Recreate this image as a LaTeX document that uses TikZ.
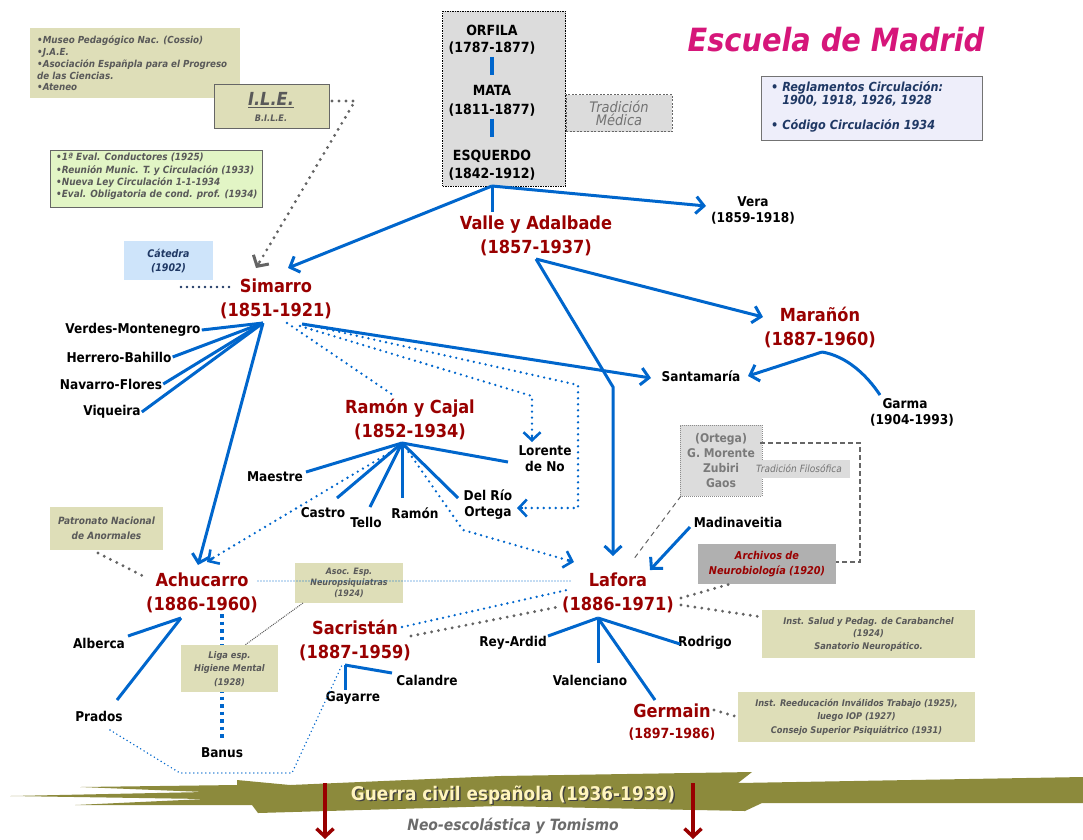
\documentclass[tikz,border=0pt]{standalone}
\usepackage{fontspec}
\IfFontExistsTF{DejaVu Sans Condensed}{\setmainfont{DejaVu Sans Condensed}}{\setmainfont{DejaVu Sans}[FakeStretch=0.9]}
\usetikzlibrary{arrows.meta}
\definecolor{cblue}{RGB}{0,102,204}
\definecolor{cred}{RGB}{153,0,0}
\definecolor{cmag}{RGB}{214,22,122}
\definecolor{ckhaki}{RGB}{222,222,184}
\definecolor{cgreen}{RGB}{226,245,197}
\definecolor{clblue}{RGB}{206,228,250}
\definecolor{clav}{RGB}{238,238,250}
\definecolor{cgraybox}{RGB}{220,220,220}
\definecolor{cmidgray}{RGB}{176,176,176}
\definecolor{cdgray}{RGB}{89,89,89}
\definecolor{cnavy}{RGB}{31,56,100}
\definecolor{colive}{RGB}{140,138,60}
\definecolor{ccream}{RGB}{255,244,190}
\definecolor{cdots}{RGB}{100,100,100}
\newcommand{\fs}[2]{\fontsize{#1}{#2}\selectfont}
\tikzset{
 x=1pt,y=-1pt,
 lbl/.style={font=\bfseries\fs{13.5}{16}, inner sep=1pt, align=center},
 rname/.style={font=\bfseries\fs{18}{24}, text=cred, inner sep=1pt, align=center},
 bl/.style={draw=cblue, line width=3pt},
 barb/.style={-{Straight Barb[length=8pt,width=17pt]}},
 bdot/.style={draw=cblue, line width=2.6pt, line cap=round, dash pattern=on 0pt off 6pt},
 fdot/.style={draw=cblue, line width=1.3pt, line cap=round, dash pattern=on 0pt off 3pt},
 gdot/.style={draw=cdots, line width=3.2pt, line cap=round, dash pattern=on 0pt off 7pt},
 kbox/.style={fill=ckhaki, draw=none, inner sep=0pt},
 ktxt/.style={font=\bfseries\itshape\fs{9}{11.5}, text=cdgray, align=center, inner sep=0pt},
}
\begin{document}
\begin{tikzpicture}
\useasboundingbox (0,0) rectangle (1083,839);
% ---------- banner ----------
\fill[colive] (237,780) -- (290,785) -- (500,776) -- (752,772) -- (738,783) -- (1083,777) -- (1083,803) -- (762,803) -- (745,811) -- (500,806) -- (258,813) -- (252,805) -- (75,805) -- (205,799) -- (10,796) -- (205,792) -- (80,787) -- (237,785) -- cycle;
\node (guerras) at (514.5,796.5) {\bfseries\fs{18.8}{20}\textcolor{black!75}{Guerra civil española (1936-1939)}};
\node (guerra) at (513,795) {\bfseries\fs{18.8}{20}\textcolor{ccream}{Guerra civil española (1936-1939)}};
\node (neo) at (513,826) {\bfseries\itshape\fs{15.5}{16}\textcolor{black!58}{Neo-escolástica y Tomismo}};
\coordinate (ra1) at (325,783); \coordinate (ra1e) at (325,839);
\coordinate (ra2) at (693,783); \coordinate (ra2e) at (693,839);
\draw[cred, line width=3.5pt, barb] (ra1) -- (ra1e);
\draw[cred, line width=3.5pt, barb] (ra2) -- (ra2e);
% ---------- title ----------
\node[text=cmag] (title) at (836,40) {\bfseries\itshape\fs{32}{36}Escuela de Madrid};
% ---------- top-left boxes ----------
\node[kbox, minimum width=210pt, minimum height=70pt] (kb1) at (135,63) {};
\node[ktxt, align=left, anchor=north west, font=\bfseries\itshape\fs{9.7}{11.7}] (kb1t) at (37,36) {•Museo Pedagógico Nac. (Cossio)\\•J.A.E.\\•Asociación Españpla para el Progreso\\de las Ciencias.\\•Ateneo};
\node[fill=ckhaki, draw=black!60, line width=1pt, minimum width=115pt, minimum height=44pt] (ile) at (271.5,106) {};
\node[text=cdgray, inner sep=0pt] (ilet) at (271,100) {\bfseries\itshape\fs{18}{20}\underline{I.L.E.}};
\node[text=cdgray, inner sep=0pt] (bile) at (271,118) {\bfseries\itshape\fs{9}{10}B.I.L.E.};
\node[fill=cgreen, draw=black!60, line width=1pt, minimum width=212pt, minimum height=57pt] (green) at (156,178.5) {};
\node[ktxt, align=left, anchor=north west, font=\bfseries\itshape\fs{9.9}{12.4}] (greent) at (56,153) {•1ª Eval. Conductores (1925)\\•Reunión Munic. T. y Circulación (1933)\\•Nueva Ley Circulación 1-1-1934\\•Eval. Obligatoria de cond. prof. (1934)};
\node[fill=clblue, minimum width=89pt, minimum height=39pt, text=cnavy, align=center, font=\bfseries\itshape\fs{10.5}{14}] (catedra) at (168.5,260.5) {Cátedra\\(1902)};
% ---------- top center ----------
\node[fill=cgraybox, draw=black, line width=0.8pt, dash pattern=on 1.5pt off 1pt, minimum width=123pt, minimum height=175pt] (medbox) at (504,98.5) {};
\node[lbl, font=\bfseries\fs{14}{17}] (orfila) at (492,40) {ORFILA\\(1787-1877)};
\node[lbl, font=\bfseries\fs{14}{19}] (mata) at (492,101) {MATA\\(1811-1877)};
\node[lbl, font=\bfseries\fs{14}{18}] (esquerdo) at (492,165) {ESQUERDO\\(1842-1912)};
\draw[cblue, line width=4.5pt] (orfila.south) ++(0,1) coordinate (b1s) -- ++(0,18) coordinate (b1e);
\draw[cblue, line width=4.5pt] (mata.south) ++(0,1) coordinate (b2s) -- ++(0,18) coordinate (b2e);
\node[fill=cgraybox, draw=black!60, line width=0.8pt, dash pattern=on 2pt off 1.5pt, minimum width=106pt, minimum height=37pt, text=black!55, align=center, font=\itshape\fs{14.5}{13}] (tradmed) at (619,113) {Tradición\\Médica};
\node[fill=clav, draw=black!55, line width=1pt, minimum width=221pt, minimum height=64pt] (regbox) at (871.5,108) {};
\node[text=cnavy, align=left, anchor=north west, inner sep=0pt, font=\bfseries\itshape\fs{12.5}{13.5}] (regt) at (771,81) {• Reglamentos Circulación:\\\phantom{• }1900, 1918, 1926, 1928\\[11pt]• Código Circulación 1934};
% ---------- names ----------
\node[rname] (valle) at (536,236) {Valle y Adalbade\\(1857-1937)};
\node[lbl] (vera) at (753,210) {Vera\\(1859-1918)};
\node[rname] (maranon) at (820,327) {Marañón\\(1887-1960)};
\node[lbl] (santa) at (701,376) {Santamaría};
\node[lbl] (garma) at (912,412) {\hspace*{-14pt}Garma\\(1904-1993)};
\node[rname] (simarro) at (276,299) {Simarro\\(1851-1921)};
\node[lbl] (verdes) at (133,330) {Verdes-Montenegro};
\node[lbl] (herrero) at (119,357) {Herrero-Bahillo};
\node[lbl] (navarro) at (111,384) {Navarro-Flores};
\node[lbl] (viqueira) at (112,412) {Viqueira};
\node[rname] (cajal) at (410,419) {Ramón y Cajal\\(1852-1934)};
\node[lbl] (maestre) at (275,477) {Maestre};
\node[lbl] (castro) at (323,513) {Castro};
\node[lbl] (tello) at (366,522) {Tello};
\node[lbl] (ramon) at (415,513) {Ramón};
\node[lbl] (delrio) at (488,505) {Del Río\\Ortega};
\node[lbl] (lorente) at (545,459) {Lorente\\de No};
\node[rname] (achucarro) at (202,593) {Achucarro\\(1886-1960)};
\node[lbl] (alberca) at (99,643) {Alberca};
\node[lbl] (prados) at (99,716) {Prados};
\node[lbl] (banus) at (222,753) {Banus};
\node[rname] (sacristan) at (355,640) {Sacristán\\(1887-1959)};
\node[lbl] (calandre) at (427,680) {Calandre};
\node[lbl] (gayarre) at (353,698) {Gayarre};
\node[rname] (lafora) at (618,593) {Lafora\\(1886-1971)};
\node[lbl] (reyardid) at (513,643) {Rey-Ardid};
\node[lbl] (valenciano) at (590,680) {Valenciano};
\node[lbl] (rodrigo) at (705,643) {Rodrigo};
\node[rname] (germain) at (672,711) {Germain};
\node[text=cred, inner sep=1pt, font=\bfseries\fs{14}{16}] (germainy) at (672,734) {(1897-1986)};
\node[lbl] (madina) at (738,522) {Madinaveitia};
% ---------- side boxes ----------
\node[fill=cgraybox, draw=black!45, line width=0.8pt, dash pattern=on 1pt off 1pt, minimum width=82pt, minimum height=71pt, text=black!52, align=center, font=\bfseries\fs{12}{15}] (ortega) at (721,460.5) {(Ortega)\\G. Morente\\Zubiri\\Gaos};
\node[fill=cgraybox, minimum width=102pt, minimum height=18pt, inner sep=0pt, text=black!55, font=\itshape\fs{10}{12}] (tradfil) at (799,469) {Tradición Filosófica};
\node[fill=cmidgray, minimum width=138pt, minimum height=40pt, text=cred, align=center, font=\bfseries\itshape\fs{10.8}{15}] (archivos) at (767,564) {Archivos de\\Neurobiología (1920)};
\node[kbox, minimum width=213pt, minimum height=48pt] (salud) at (868.5,634) {};
\node[ktxt, font=\bfseries\itshape\fs{9.2}{12.5}] (saludt) at (868.5,634) {Inst. Salud y Pedag. de Carabanchel\\(1924)\\Sanatorio Neuropático.};
\node[kbox, minimum width=237pt, minimum height=50pt] (reeduc) at (856.5,717) {};
\node[ktxt, font=\bfseries\itshape\fs{9.2}{13.5}] (reeduct) at (856.5,717) {Inst. Reeducación Inválidos Trabajo (1925),\\luego IOP (1927)\\Consejo Superior Psiquiátrico (1931)};
\node[kbox, minimum width=113pt, minimum height=43pt] (patronato) at (106.5,528.5) {};
\node[ktxt, font=\bfseries\itshape\fs{10}{15}] (patronatot) at (106.5,528.5) {Patronato Nacional\\de Anormales};
\node[kbox, minimum width=108pt, minimum height=40pt] (asoc) at (349,583) {};
\node[ktxt, font=\bfseries\itshape\fs{8.8}{11}] (asoct) at (349,583) {Asoc. Esp.\\Neuropsiquiatras\\(1924)};
% ---------- hubs ----------
\coordinate (esqhub) at (492,186);
\coordinate (vallehub) at (536,259);
\coordinate (valleturn) at (613,387);
\coordinate (simhub) at (263,323);
\coordinate (simhub2) at (302,324);
\coordinate (marhub) at (822,352);
\coordinate (cajhub) at (402,443);
\coordinate (achhub) at (181,618);
\coordinate (sachub) at (345,665);
\coordinate (lafhub) at (598,618);
% ---------- blue solid ----------
\draw[bl, barb] (esqhub) -- (288,268) coordinate (simtip);
\draw[bl, barb] (esqhub) -- (706,206) coordinate (veratip);
\draw[bl] (esqhub) -- (492,212) coordinate (vallestub);
\draw[bl, barb] (vallehub) -- (763,317) coordinate (martip);
\draw[bl, barb] (vallehub) -- (valleturn) -- (613,556) coordinate (laftip);
\draw[bl, barb] (simhub2) -- (651,378) coordinate (santatip);
\draw[bl, barb] (simhub) -- (198,565) coordinate (achtip);
\draw[bl] (simhub) -- (verdes.east);
\draw[bl] (simhub) -- (herrero.east);
\draw[bl] (simhub) -- (navarro.east);
\draw[bl] (simhub) -- (viqueira.east);
\draw[bl, barb] (marhub) -- (748,376) coordinate (santatip2);
\draw[bl] (marhub) .. controls (846,356) and (866,374) .. (880,395) coordinate (garmaend);
\draw[bl] (cajhub) -- (306,472) coordinate (maestreend);
\draw[bl] (cajhub) -- (337,498) coordinate (castroend);
\draw[bl] (cajhub) -- (370,507) coordinate (telloend);
\draw[bl] (cajhub) -- (402,498) coordinate (ramonend);
\draw[bl] (cajhub) -- (458,498) coordinate (delrioend);
\draw[bl] (cajhub) -- (508,462) coordinate (lorenteend);
\draw[bl] (achhub) -- (128,636) coordinate (albercaend);
\draw[bl] (achhub) -- (117,700) coordinate (pradosend);
\draw[bl] (sachub) -- (345,690) coordinate (gayarreend);
\draw[bl] (sachub) -- (392,673) coordinate (calandreend);
\draw[bl] (lafhub) -- (548,636) coordinate (reyend);
\draw[bl] (lafhub) -- (598,663) coordinate (valend);
\draw[bl] (lafhub) -- (680,644) coordinate (rodend);
\draw[bl] (lafhub) -- (655,700) coordinate (gerend);
\draw[bl, barb] (690,527) coordinate (madst) -- (650,570) coordinate (madtip);
% ---------- blue dotted ----------
\draw[bdot] (287,323) coordinate (d1s) -- (393,395) coordinate (d1e);
\draw[bdot] (300,326) coordinate (d2s) -- (532,396) -- (532,436) coordinate (d2e);
\draw[cblue, line width=2.6pt, -{Straight Barb[length=8pt,width=17pt]}] (532,436) -- (532,442) coordinate (lortip);
\draw[bdot] (304,324) coordinate (d3s) -- (578,385) -- (578,508) -- (523,508) coordinate (d3e);
\draw[cblue, line width=2.6pt, -{Straight Barb[length=8pt,width=17pt]}] (523,508) -- (517,508) coordinate (deltip);
\draw[bdot] (399,447) coordinate (d4s) -- (213,558) coordinate (d4e);
\draw[cblue, line width=2.6pt, -{Straight Barb[length=8pt,width=17pt]}] (213,558) -- (207,562) coordinate (achtip2);
\draw[bdot] (405,447) coordinate (d5s) -- (463,530) -- (567,560) coordinate (d5e);
\draw[cblue, line width=2.6pt, -{Straight Barb[length=8pt,width=17pt]}] (567,560) -- (574,562) coordinate (laftip2);
\draw[fdot] (258,581) coordinate (f1s) -- (572,581) coordinate (f1e);
\draw[bdot] (402,627) coordinate (g1s) -- (567,590) coordinate (g1e);
\draw[fdot, line width=1.6pt, dash pattern=on 0pt off 4pt] (110,730) coordinate (p1s) -- (180,773) -- (292,773) -- (342,665) coordinate (p1e);
\draw[draw=cblue, line width=3.5pt, dash pattern=on 3.5pt off 4pt] (222,614) coordinate (v1s) -- (222,740) coordinate (v1e);
\draw[draw=cnavy, line width=2.6pt, line cap=round, dash pattern=on 0pt off 6pt] (181,287) coordinate (c1s) -- (232,287) coordinate (c1e);
% ---------- gray dotted ----------
\draw[gdot] (332,101) coordinate (i1s) -- (355,101) -- (259,263) coordinate (i1e);
\draw[draw=cdots, line width=3pt, -{Straight Barb[length=8pt,width=18pt]}] (259,263) -- (256,268) coordinate (iletip);
\draw[gdot] (98,553) coordinate (pa1) -- (147,578) coordinate (pa2);
\draw[gdot] (411,636) coordinate (s1) -- (558,607) coordinate (s2);
\draw[gdot] (681,598) coordinate (l1) -- (730,584) coordinate (l2);
\draw[gdot] (681,605) coordinate (l3) -- (762,617) coordinate (l4);
\draw[gdot] (714,710) coordinate (ge1) -- (reeduc.west) coordinate (ge2);
\draw[draw=black!65, line width=1pt, dash pattern=on 1pt off 1pt] (303,603) coordinate (as1) -- (245,645) coordinate (as2);
% ---------- gray dashed ----------
\draw[draw=black!60, line width=1pt, dash pattern=on 5pt off 4pt] (681,496) coordinate (o1) -- (633,560) coordinate (o2);
\draw[draw=black!60, line width=1.5pt, dash pattern=on 5pt off 3pt] (760,443) coordinate (o3) -- (860,443) -- (860,562) -- (836,562) coordinate (o4);
% ---------- liga box ----------
\node[kbox, minimum width=97pt, minimum height=47pt] (liga) at (229.5,668.5) {};
\node[ktxt, font=\bfseries\itshape\fs{9.2}{13.5}] (ligat) at (229.5,669) {Liga esp.\\Higiene Mental\\(1928)};
\end{tikzpicture}
\end{document}
